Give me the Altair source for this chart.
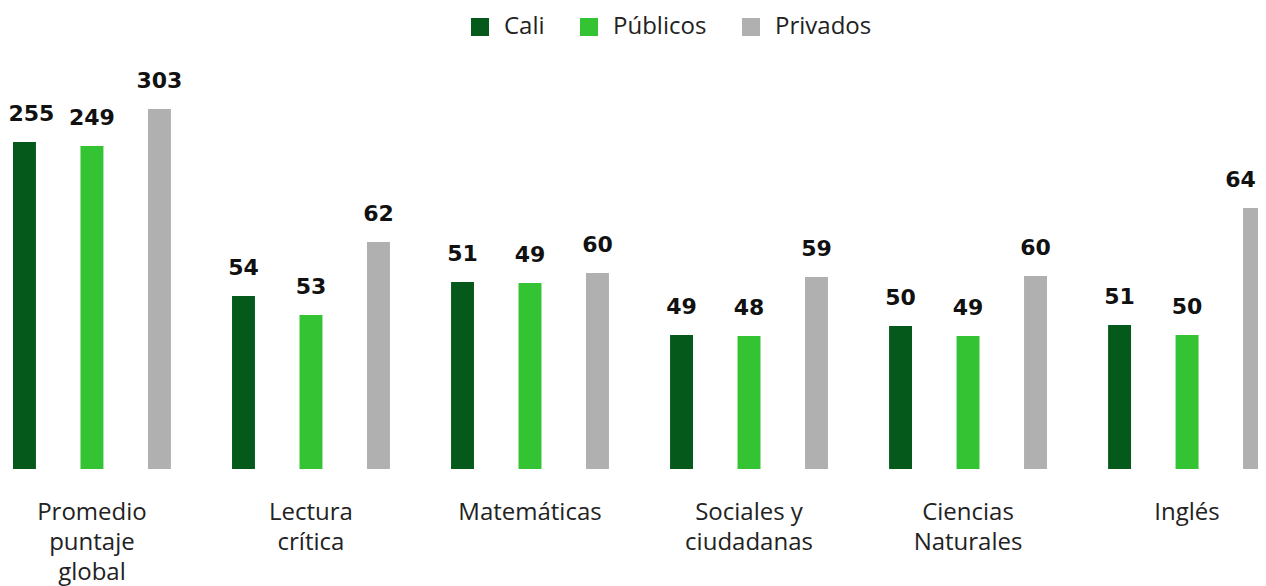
import altair as alt
import pandas as pd

categorias = ["Promedio|puntaje|global", "Lectura|crítica", "Matemáticas",
              "Sociales y|ciudadanas", "Ciencias|Naturales", "Inglés"]
series = ["Cali", "Públicos", "Privados"]
colores = ["#055a1b", "#33c333", "#b0b0b0"]

puntaje_cali = [255, 54, 51, 49, 50, 51]
puntaje_publicos = [249, 53, 49, 48, 49, 50]
puntaje_privados = [303, 62, 60, 59, 60, 64]

# bar heights as drawn in the reference (arbitrary units)
altura_cali = [327, 173, 187, 134, 143, 144]
altura_publicos = [323, 154, 186, 133, 133, 134]
altura_privados = [360, 227, 196, 192, 193, 261]

rows = []
for s, pts, alts in zip(series,
                        [puntaje_cali, puntaje_publicos, puntaje_privados],
                        [altura_cali, altura_publicos, altura_privados]):
    for c, p, a in zip(categorias, pts, alts):
        rows.append({"categoria": c, "serie": s, "puntaje": p, "altura": a})
df = pd.DataFrame(rows)

FONT = "Open Sans"
primera = categorias[0]
ultima = categorias[-1]

x = alt.X("categoria:N", sort=categorias,
          scale=alt.Scale(paddingInner=0.279, paddingOuter=0, range=[0, 1253]),
          axis=alt.Axis(title=None, domain=False, ticks=False, labelAngle=0,
                        labelFontSize=24, labelFont=FONT, labelColor="#222222",
                        labelPadding=31, labelLineHeight=30,
                        labelExpr="split(datum.label, '|')"))
xo = alt.XOffset("serie:N", sort=series,
                 scale=alt.Scale(paddingInner=0.66, paddingOuter=0))
y = alt.Y("altura:Q", scale=alt.Scale(domain=[0, 429], nice=False),
          axis=None)

base = alt.Chart(df).encode(x=x, xOffset=xo, y=y)

bars = base.mark_bar().encode(
    color=alt.Color("serie:N", sort=series,
                    scale=alt.Scale(domain=series, range=colores),
                    legend=alt.Legend(title=None, orient="none",
                                      direction="horizontal",
                                      legendX=455, legendY=-25,
                                      symbolType="square", symbolSize=324,
                                      symbolStrokeWidth=0, symbolOpacity=1,
                                      labelFontSize=24, labelFont=FONT,
                                      labelColor="#222222", labelOffset=12,
                                      columnPadding=32))
)

txt = dict(baseline="middle", fontSize=22, fontWeight="bold",
           font="DejaVu Sans", color="#111111")

es_primera = (alt.datum.categoria == primera) & (alt.datum.serie == "Cali")
es_ultima = (alt.datum.categoria == ultima) & (alt.datum.serie == "Privados")

labels = base.mark_text(dy=-28, **txt).encode(text="puntaje:Q").transform_filter(
    ~es_primera & ~es_ultima)
label_first = base.mark_text(dy=-28, dx=7, **txt).encode(
    text="puntaje:Q").transform_filter(es_primera)
label_last = base.mark_text(dy=-28, dx=-14, **txt).encode(
    text="puntaje:Q").transform_filter(es_ultima)

chart = (bars + labels + label_first + label_last).properties(
    width=1245, height=429,
    autosize=alt.AutoSizeParams(type="none"),
    padding={"left": 5, "top": 32, "right": 0, "bottom": 117},
).configure_view(stroke=None)

chart.save("out.html", embed_options={"renderer": "svg", "actions": False})
